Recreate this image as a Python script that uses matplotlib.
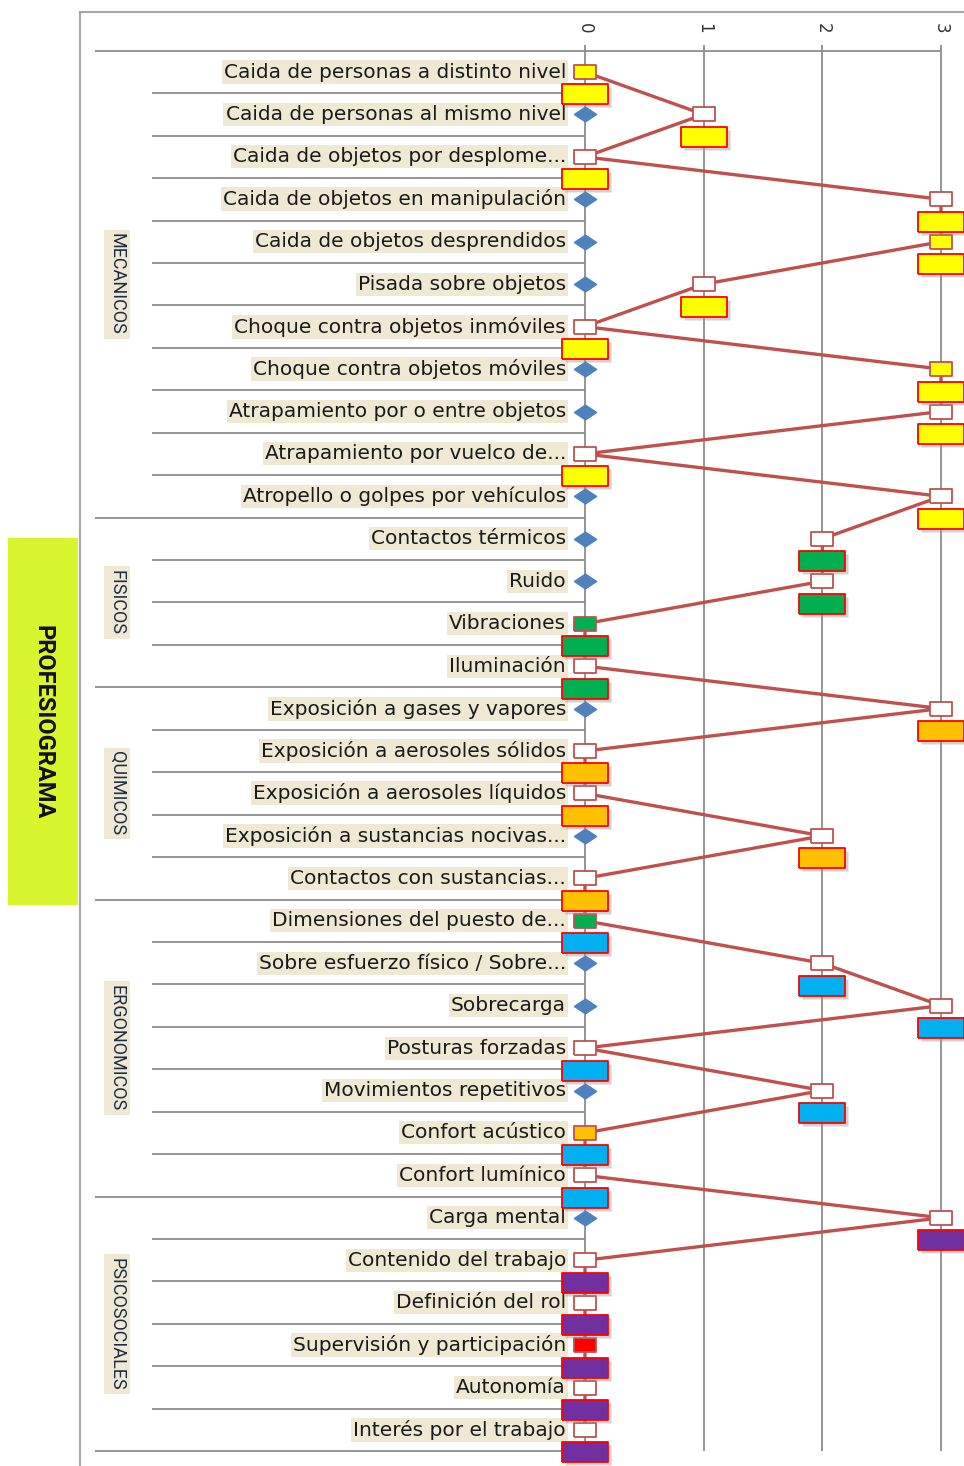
import matplotlib.pyplot as plt
from matplotlib.patches import Rectangle
from matplotlib.transforms import offset_copy

# Datos del profesiograma
riesgos = [
    'Caida de personas a distinto nivel', 'Caida de personas al mismo nivel',
    'Caida de objetos por desplome...', 'Caida de objetos en manipulación',
    'Caida de objetos desprendidos', 'Pisada sobre objetos',
    'Choque contra objetos inmóviles', 'Choque contra objetos móviles',
    'Atrapamiento por o entre objetos', 'Atrapamiento por vuelco de...',
    'Atropello o golpes por vehículos',
    'Contactos térmicos', 'Ruido', 'Vibraciones', 'Iluminación',
    'Exposición a gases y vapores', 'Exposición a aerosoles sólidos',
    'Exposición a aerosoles líquidos', 'Exposición a sustancias nocivas...',
    'Contactos con sustancias...',
    'Dimensiones del puesto de...', 'Sobre esfuerzo físico / Sobre...',
    'Sobrecarga', 'Posturas forzadas', 'Movimientos repetitivos',
    'Confort acústico', 'Confort lumínico',
    'Carga mental', 'Contenido del trabajo', 'Definición del rol',
    'Supervisión y participación', 'Autonomía', 'Interés por el trabajo',
]
valores = [0, 1, 0, 3, 3, 1, 0, 3, 3, 0, 3,
           2, 2, 0, 0,
           3, 0, 0, 2, 0,
           0, 2, 3, 0, 2, 0, 0,
           3, 0, 0, 0, 0, 0]
grupos = ['MECANICOS', 'FISICOS', 'QUIMICOS', 'ERGONOMICOS', 'PSICOSOCIALES']
tam_grupos = [11, 4, 5, 7, 6]
colores_grupos = ['#ffff00', '#00b050', '#ffc000', '#00b0f0', '#7030a0']
# color del marcador de cada punto (blanco por defecto)
color_marcador = ['white'] * len(valores)
color_marcador[0] = '#ffff00'
color_marcador[4] = '#ffff00'
color_marcador[7] = '#ffff00'
color_marcador[13] = '#00b050'
color_marcador[20] = '#00b050'
color_marcador[25] = '#ffc000'
color_marcador[30] = '#ff0000'
escala = [0, 1, 2, 3]

W, H = 964, 1466
fig = plt.figure(figsize=(W / 100, H / 100), dpi=100)
ax = fig.add_axes([80 / W, 0, 884 / W, (H - 12) / H])

# conversion pixel -> datos
x0_px, ux = 585, (941 - 585) / 3
y0_px, uy = 72, (1430 - 72) / 32
px = lambda p: (p - x0_px) / ux
py = lambda p: (p - y0_px) / uy

ax.set_xlim(px(80), px(964))
ax.set_ylim(py(1466), py(12))
ax.set_xticks([])
ax.set_yticks([])
for s in ['right', 'bottom']:
    ax.spines[s].set_visible(False)
for s in ['top', 'left']:
    ax.spines[s].set_color('#a6a6a6')
    ax.spines[s].set_linewidth(1.5)

gris = '#8c8c8c'
n = len(valores)
filas = list(range(n))

# lineas verticales de la escala
ax.vlines(escala, py(45), n - 0.5, color=gris, lw=1.3, zorder=1)
ax.hlines(-0.5, px(95), escala[-1], color=gris, lw=1.3, zorder=1)
for v in escala:
    ax.text(v, py(28), str(v), rotation=-90, ha='center', va='center',
            fontsize=12, color='#333333')

# separadores de filas y grupos
limites = []
acum = 0
for t in tam_grupos:
    acum += t
    limites.append(acum - 0.5)
for k in range(n):
    b = k + 0.5
    x_ini = px(95) if b in limites else px(152)
    ax.hlines(b, x_ini, 0, color=gris, lw=1.3, zorder=1)

# etiquetas de riesgos
for i, r in enumerate(riesgos):
    ax.text(px(566), i, r, ha='right', va='center', fontsize=14.5,
            color='#1a1a1a', zorder=2,
            bbox=dict(boxstyle='square,pad=0.1', fc='#efe9d3', ec='none'))

# etiquetas de grupos
inicio = 0
for g, t in zip(grupos, tam_grupos):
    centro = inicio + (t - 1) / 2
    ax.text(px(117), centro, g, rotation=-90, ha='center', va='center',
            fontsize=13, family=['Roboto', 'DejaVu Sans'],
            color='#1f2a44',
            bbox=dict(boxstyle='square,pad=0.2', fc='#efe9d3', ec='none'))
    inicio += t

# serie de rombos (valor base)
rombo = [(-1.5, 0), (0, 1), (1.5, 0), (0, -1), (-1.5, 0)]
ax.plot([0 if v > 0 else float('nan') for v in valores], filas, ls='none',
        marker=rombo, ms=16, mfc='#4f81bd', mec='#4f81bd', zorder=3)

# linea del perfil
ax.plot(valores, filas, color='#c0504d', lw=2.4, zorder=4)

rect = [(-1.5, -1), (1.5, -1), (1.5, 1), (-1.5, 1), (-1.5, -1)]
for i, v in enumerate(valores):
    ax.plot(v, i, ls='none', marker=rect, ms=16, mfc=color_marcador[i],
            mec='#c0504d', mew=1.3, zorder=5)

# cajas de etiqueta de datos por grupo
caja = [(-2.3, -1), (2.3, -1), (2.3, 1), (-2.3, 1), (-2.3, -1)]
sombra = offset_copy(ax.transData, fig=fig, x=3, y=-3, units='dots')
inicio = 0
for c, t in zip(colores_grupos, tam_grupos):
    for i in range(inicio, inicio + t):
        ax.plot(valores[i], i + 0.53, ls='none', marker=caja, ms=33,
                mfc='#9a9a9a', mec='none', alpha=0.45, transform=sombra,
                zorder=6)
        ax.plot(valores[i], i + 0.53, ls='none', marker=caja, ms=33,
                mfc=c, mec='#ff0000', mew=1.3, zorder=7)
    inicio += t

# recuadro lateral PROFESIOGRAMA
fig.patches.append(Rectangle((8 / W, 1 - 905 / H), 70 / W, 367 / H,
                             transform=fig.transFigure, fc='#d9f52e',
                             ec='none', zorder=0))
fig.text(43 / W, 1 - 722 / H, 'PROFESIOGRAMA', rotation=-90, ha='center',
         va='center', fontsize=17, fontweight='bold',
         family=['Roboto', 'DejaVu Sans'], color='#111111')

fig.savefig('out.png', dpi=100)
